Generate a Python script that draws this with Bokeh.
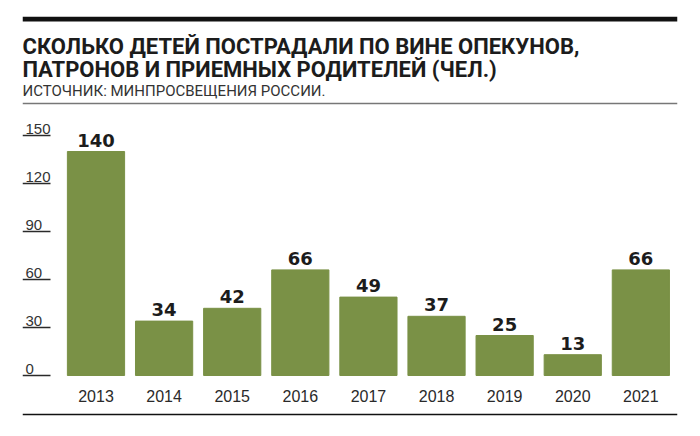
from bokeh.plotting import figure
from bokeh.models import Range1d, Span, Label, ColumnDataSource
from bokeh.core.properties import value
from bokeh.embed import file_html
from bokeh.resources import INLINE

# ---- data ----
years = ["2013", "2014", "2015", "2016", "2017", "2018", "2019", "2020", "2021"]
counts = [140, 34, 42, 66, 49, 37, 25, 13, 66]
y_ticks = [0, 30, 60, 90, 120, 150]
y_tick_labels = ["0", "30", "60", "90", "120", "150"]
title_lines = ["СКОЛЬКО ДЕТЕЙ ПОСТРАДАЛИ ПО ВИНЕ ОПЕКУНОВ,",
               "ПАТРОНОВ И ПРИЕМНЫХ РОДИТЕЛЕЙ (ЧЕЛ.)"]
source_text = "ИСТОЧНИК: МИНПРОСВЕЩЕНИЯ РОССИИ."

# ---- layout ----
FW, FH = 655, 401
x0, x1 = -1.079, 8.538
y_px = 1.6                      # pixels per unit
y_bottom_px = 42                # px below zero inside frame
y0 = -(y_bottom_px / y_px)
y1 = (FH - y_bottom_px) / y_px
x_px = FW / (x1 - x0)

BAR = "#7a9146"
TXT = "#1c1c1c"

p = figure(width=684, height=420, output_backend="svg", toolbar_location=None,
           x_range=Range1d(x0, x1), y_range=Range1d(y0, y1),
           x_axis_type=None, y_axis_type=None,
           min_border_left=22, min_border_right=7, min_border_top=16, min_border_bottom=3,
           frame_width=FW, frame_height=FH)
p.grid.visible = False
p.outline_line_color = None
p.background_fill_color = "white"
p.border_fill_color = "white"

xs = list(range(len(years)))
src = ColumnDataSource(dict(x=xs, year=years, v=counts,
                            vlab=[str(c) for c in counts],
                            vy=[c + 5 / y_px for c in counts],
                            yy=[-20 / y_px for _ in years]))

p.vbar(x="x", top="v", bottom=0, width=0.84, color=BAR, source=src)

# value labels
p.text(x="x", y="vy", text="vlab", source=src, text_align="center", text_baseline="bottom",
       text_font=value("DejaVu Sans"), text_font_style="bold", text_font_size="18px", text_color=TXT)

# year labels
p.text(x="x", y="yy", text="year", source=src, text_align="center", text_baseline="middle",
       text_font=value("Liberation Sans"), text_font_size="16px", text_color="#2a2a2a")

# y ticks (labels above short rules)
tsrc = ColumnDataSource(dict(y=y_ticks, lab=y_tick_labels,
                             ly=[t + 1.5 / y_px for t in y_ticks],
                             xa=[x0] * len(y_ticks), xb=[x0 + 28 / x_px] * len(y_ticks),
                             xl=[x0 + 3 / x_px] * len(y_ticks)))
p.hbar(y="y", left="xa", right="xb", height=1.3 / y_px, source=tsrc,
       fill_color="#2a2a2a", line_color=None)
p.text(x="xl", y="ly", text="lab", source=tsrc, text_align="left", text_baseline="bottom",
       text_font=value("Liberation Sans"), text_font_size="15px", text_color="#333333")

# rules
p.add_layout(Span(location=(375 - 18.5) / y_px, dimension="width", line_color="#111111", line_width=5))
p.add_layout(Span(location=(375 - 103) / y_px, dimension="width", line_color="#777777", line_width=1.5))
p.add_layout(Span(location=(375 - 414) / y_px, dimension="width", line_color="#111111", line_width=1.5))

# titles
for txt, base in [(title_lines[0], 46), (title_lines[1], 69)]:
    p.add_layout(Label(x=x0, y=(375 - base) / y_px, text=txt, text_font="Roboto",
                       text_font_style="bold", text_font_size="22px", text_color=TXT,
                       text_baseline="alphabetic"))
p.add_layout(Label(x=x0, y=(375 - 90) / y_px, text=source_text, text_font="Roboto",
                   text_font_size="15px", text_color="#333333", text_baseline="alphabetic"))

open("out.html", "w").write(file_html(p, INLINE))
